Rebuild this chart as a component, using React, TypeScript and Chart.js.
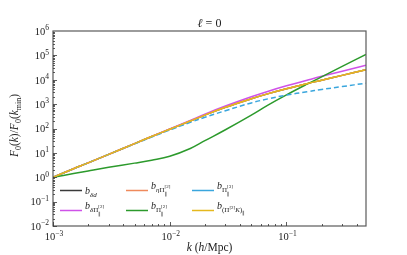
import React, { useEffect, useRef } from "react";
import { Chart, registerables } from "chart.js";

Chart.register(...registerables);

// k values (h/Mpc)
const kValues = [0.001, 0.0015, 0.002, 0.003, 0.005, 0.007, 0.01, 0.015, 0.02, 0.03, 0.05, 0.07, 0.1, 0.15, 0.2, 0.3, 0.48];

// F0(k)/F0(kmin) for each bias term
const bDeltaD = [1, 2.24, 3.89, 8.71, 24.0, 46.8, 93.3, 204, 355, 741, 1660, 2692, 4266, 6918, 9550, 15136, 25704];
const bEtaPi2 = [1, 2.24, 3.89, 8.71, 24.0, 46.8, 93.3, 204, 355, 741, 1660, 2692, 4266, 6918, 9550, 15136, 25704];
const bPi3 = [1, 2.24, 3.89, 8.71, 23.4, 44.7, 87.1, 178, 288, 537, 1122, 1660, 2344, 3236, 3981, 5248, 7244];
const bDeltaPi2 = [1, 2.24, 3.89, 8.71, 24.0, 46.8, 95.5, 214, 389, 832, 1995, 3388, 5623, 9550, 13804, 22387, 39811];
const bPi2 = [1, 1.41, 1.82, 2.57, 3.8, 5.01, 7.24, 15.1, 31.6, 89.1, 355, 933, 2399, 6607, 13183, 35481, 109648];
const bPi2K = [1, 2.24, 3.89, 8.71, 24.0, 46.8, 93.3, 204, 355, 741, 1660, 2692, 4266, 6918, 9550, 15136, 25704];

// axis ticks
const xMajorTicks = [0.001, 0.01, 0.1];
const xTickExps = ["\u22123", "\u22122", "\u22121"];
const yMajorTicks = [1e-2, 1e-1, 1e0, 1e1, 1e2, 1e3, 1e4, 1e5, 1e6];
const yTickExps = ["\u22122", "\u22121", "0", "1", "2", "3", "4", "5", "6"];

const FONT = '"Liberation Serif", "DejaVu Serif", serif';

type Seg = { t: string; size: number; dy: number; italic?: boolean; noAdvance?: boolean };

function segWidth(ctx: CanvasRenderingContext2D, segs: Seg[]) {
  let w = 0;
  for (const s of segs) {
    ctx.font = `${s.italic ? "italic " : ""}${s.size}px ${FONT}`;
    if (!s.noAdvance) w += ctx.measureText(s.t).width;
  }
  return w;
}

function drawSegs(ctx: CanvasRenderingContext2D, x: number, y: number, segs: Seg[]) {
  let cx = x;
  for (const s of segs) {
    ctx.font = `${s.italic ? "italic " : ""}${s.size}px ${FONT}`;
    ctx.fillText(s.t, cx, y + s.dy);
    if (!s.noAdvance) cx += ctx.measureText(s.t).width;
  }
}

const legendItems: { color: string; dash?: number[]; col: number; row: number; segs: Seg[]; base: number }[] = [
  {
    color: "#3a3a3a", col: 0, row: 0, base: 3.5,
    segs: [{ t: "b", size: 10, dy: 0, italic: true }, { t: "\u03b4d", size: 7, dy: 2.5, italic: true }],
  },
  {
    color: "#ef8a5c", col: 1, row: 0, base: -2,
    segs: [
      { t: "b", size: 10, dy: 0, italic: true },
      { t: "\u03b7", size: 7, dy: 3, italic: true },
      { t: "\u03a0", size: 7, dy: 3 },
      { t: "\u2225", size: 5, dy: 7, noAdvance: true },
      { t: "[2]", size: 5, dy: -0.5 },
    ],
  },
  {
    color: "#3aa6dd", col: 2, row: 0, base: -2,
    segs: [
      { t: "b", size: 10, dy: 0, italic: true },
      { t: "\u03a0", size: 7, dy: 3 },
      { t: "\u2225", size: 5, dy: 7, noAdvance: true },
      { t: "[3]", size: 5, dy: -0.5 },
    ],
  },
  {
    color: "#cf52e8", col: 0, row: 1, base: -2,
    segs: [
      { t: "b", size: 10, dy: 0, italic: true },
      { t: "\u03b4", size: 7, dy: 3, italic: true },
      { t: "\u03a0", size: 7, dy: 3 },
      { t: "\u2225", size: 5, dy: 7, noAdvance: true },
      { t: "[2]", size: 5, dy: -0.5 },
    ],
  },
  {
    color: "#2c9a2c", col: 1, row: 1, base: -2,
    segs: [
      { t: "b", size: 10, dy: 0, italic: true },
      { t: "\u03a0", size: 7, dy: 3 },
      { t: "\u2225", size: 5, dy: 7, noAdvance: true },
      { t: "[2]", size: 5, dy: -0.5 },
    ],
  },
  {
    color: "#e5b81e", col: 2, row: 1, base: -1.5,
    segs: [
      { t: "b", size: 10, dy: 0, italic: true },
      { t: "(\u03a0", size: 7, dy: 3 },
      { t: "[2]", size: 5, dy: 0 },
      { t: "K", size: 7, dy: 3, italic: true },
      { t: ")", size: 7, dy: 3 },
      { t: "\u2225", size: 5, dy: 6 },
    ],
  },
];

const overlay = {
  id: "overlay",
  afterDraw(chart: any) {
    const ctx: CanvasRenderingContext2D = chart.ctx;
    const { left, right, top, bottom } = chart.chartArea;
    const xs = chart.scales.x;
    const ys = chart.scales.y;
    ctx.save();
    // frame
    ctx.strokeStyle = "#5a5a5a";
    ctx.lineWidth = 1.2;
    ctx.strokeRect(left, top, right - left, bottom - top);

    // ticks
    ctx.strokeStyle = "#333";
    ctx.lineWidth = 0.8;
    ctx.beginPath();
    for (let n = -2; n <= 5; n++) {
      for (let m = 1; m <= 9; m++) {
        const v = m * Math.pow(10, n);
        const py = Math.round(ys.getPixelForValue(v)) + 0.5;
        const len = m === 1 ? 4 : 2;
        ctx.moveTo(left, py);
        ctx.lineTo(left + len, py);
      }
    }
    for (let n = -3; n <= -1; n++) {
      for (let m = 1; m <= 9; m++) {
        const v = m * Math.pow(10, n);
        if (v > xs.max) continue;
        const px = Math.round(xs.getPixelForValue(v)) + 0.5;
        const len = m === 1 ? 4 : 2;
        ctx.moveTo(px, bottom);
        ctx.lineTo(px, bottom - len);
      }
    }
    ctx.stroke();

    ctx.fillStyle = "#222";
    ctx.textBaseline = "alphabetic";
    ctx.textAlign = "left";
    // y tick labels
    yMajorTicks.forEach((v, i) => {
      const py = ys.getPixelForValue(v);
      const segs: Seg[] = [
        { t: "10", size: 10.5, dy: 0 },
        { t: yTickExps[i], size: 7.5, dy: -4.5 },
      ];
      const w = segWidth(ctx, segs);
      drawSegs(ctx, 49 - w, py + 3.8, segs);
    });
    // x tick labels
    xMajorTicks.forEach((v, i) => {
      const px = xs.getPixelForValue(v);
      const segs: Seg[] = [
        { t: "10", size: 10.5, dy: 0 },
        { t: xTickExps[i], size: 7.5, dy: -4.5 },
      ];
      const w = segWidth(ctx, segs);
      drawSegs(ctx, px - w / 2 + 1, 240, segs);
    });

    // x title
    const xt: Seg[] = [
      { t: "k", size: 11.5, dy: 0, italic: true },
      { t: " (", size: 11.5, dy: 0 },
      { t: "h", size: 11.5, dy: 0, italic: true },
      { t: "/Mpc)", size: 11.5, dy: 0 },
    ];
    const xtw = segWidth(ctx, xt);
    drawSegs(ctx, (left + right) / 2 - xtw / 2, 251, xt);

    // y title (rotated)
    const yt: Seg[] = [
      { t: "F", size: 11.5, dy: 0, italic: true },
      { t: "0", size: 8, dy: 2.5 },
      { t: "(", size: 11.5, dy: 0 },
      { t: "k", size: 11.5, dy: 0, italic: true },
      { t: ")/", size: 11.5, dy: 0 },
      { t: "F", size: 11.5, dy: 0, italic: true },
      { t: "0", size: 8, dy: 2.5 },
      { t: "(", size: 11.5, dy: 0 },
      { t: "k", size: 11.5, dy: 0, italic: true },
      { t: "min", size: 8, dy: 2.5 },
      { t: ")", size: 11.5, dy: 0 },
    ];
    const ytw = segWidth(ctx, yt);
    ctx.save();
    ctx.translate(14, (top + bottom) / 2 - 3);
    ctx.rotate(-Math.PI / 2);
    drawSegs(ctx, -ytw / 2, 4, yt);
    ctx.restore();

    // title
    const tt: Seg[] = [
      { t: "\u2113", size: 12, dy: 0, italic: true },
      { t: " = 0", size: 12, dy: 0 },
    ];
    const ttw = segWidth(ctx, tt);
    drawSegs(ctx, (left + right) / 2 - ttw / 2, 26.5, tt);

    // legend
    const colX = [60, 126, 192];
    const rowY = [190.5, 210.5];
    legendItems.forEach((it) => {
      const lx = colX[it.col];
      const ly = rowY[it.row];
      ctx.strokeStyle = it.color;
      ctx.lineWidth = 1.5;
      ctx.setLineDash(it.dash || []);
      ctx.beginPath();
      ctx.moveTo(lx, ly);
      ctx.lineTo(lx + 22, ly);
      ctx.stroke();
      ctx.setLineDash([]);
      ctx.fillStyle = "#222";
      drawSegs(ctx, lx + 25, ly + it.base, it.segs);
    });
    ctx.restore();
  },
};

function toPts(vals: number[]) {
  return kValues.map((k, i) => ({ x: k, y: vals[i] }));
}

export default function App() {
  const ref = useRef<HTMLCanvasElement | null>(null);
  useEffect(() => {
    if (!ref.current) return;
    const mk = (label: string, vals: number[], color: string, dash?: number[]) => ({
      label,
      data: toPts(vals),
      borderColor: color,
      backgroundColor: color,
      borderWidth: 1.5,
      borderDash: dash || [],
      pointRadius: 0,
      fill: false,
      tension: 0.4,
    });
    const chart = new Chart(ref.current, {
      type: "line",
      data: {
        datasets: [
          mk("b_(Pi2K)", bPi2K, "#e5b81e"),
          mk("b_Pi3", bPi3, "#3aa6dd", [5, 3]),
          mk("b_Pi2", bPi2, "#2c9a2c"),
          mk("b_etaPi2", bEtaPi2, "#ef8a5c"),
          mk("b_deltaPi2", bDeltaPi2, "#cf52e8"),
          mk("b_deltad", bDeltaD, "#3a3a3a"),
        ],
      },
      options: {
        responsive: false,
        animation: false,
        devicePixelRatio: 1,
        layout: { padding: { left: 0, top: 31, right: 41, bottom: 0 } },
        plugins: { legend: { display: false }, tooltip: { enabled: false }, title: { display: false } },
        scales: {
          x: {
            type: "logarithmic",
            min: 0.001,
            max: 0.48,
            ticks: { display: false },
            grid: { display: false },
            border: { display: false },
            afterFit: (s: any) => { s.height = 29; },
          },
          y: {
            type: "logarithmic",
            min: 0.01,
            max: 1e6,
            ticks: { display: false },
            grid: { display: false },
            border: { display: false },
            afterFit: (s: any) => { s.width = 53; },
          },
        },
      },
      plugins: [overlay],
    });
    return () => chart.destroy();
  }, []);
  return (
    <div style={{ position: "absolute", left: 0, top: 0, width: 407, height: 255, background: "#fff" }}>
      <canvas ref={ref} width={407} height={255} />
    </div>
  );
}
